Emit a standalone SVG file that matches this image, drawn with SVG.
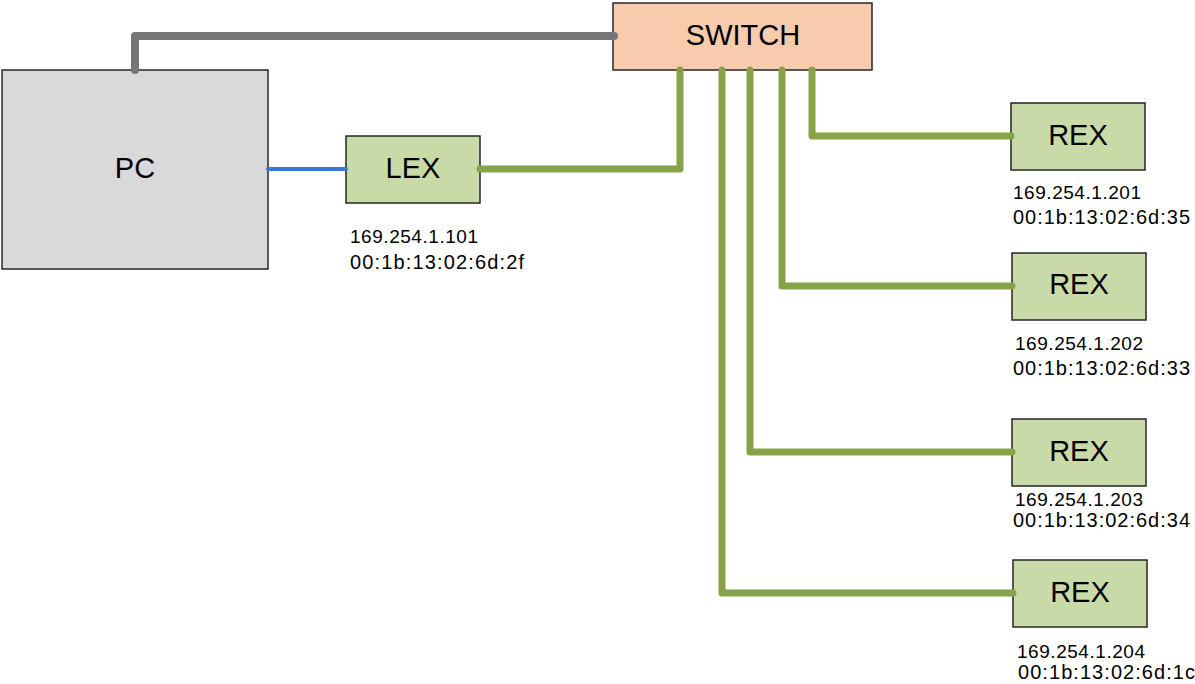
<svg xmlns="http://www.w3.org/2000/svg" width="1195" height="684" viewBox="0 0 1195 684">
<style>
.box{stroke:#262626;stroke-width:1.5}
.pc{fill:#d9d9d9}
.sw{fill:#f8cbad}
.dev{fill:#c9daa9}
.lbl{font-family:"Liberation Sans",Arial,sans-serif;font-size:29px;fill:#000;text-anchor:middle}
.ip{font-family:"Liberation Sans",Arial,sans-serif;font-size:19px;fill:#000}
.mac{font-family:"Liberation Sans",Arial,sans-serif;font-size:20px;fill:#000}
.g{fill:none;stroke:#86a447;stroke-width:7;stroke-linecap:round;stroke-linejoin:round}
.gray{fill:none;stroke:#767676;stroke-width:8;stroke-linecap:round;stroke-linejoin:round}
.blue{fill:none;stroke:#3a78d0;stroke-width:4;stroke-linecap:round}
</style>
<rect width="1195" height="684" fill="#fff"/>
<g id="pc">
<rect class="box pc" x="2" y="70" width="266" height="199"/>
<text class="lbl" x="135" y="178">PC</text>
</g>
<g id="switch">
<rect class="box sw" x="613" y="3" width="259" height="67"/>
<text class="lbl" x="743" y="45">SWITCH</text>
</g>
<g id="lex">
<rect class="box dev" x="346" y="136" width="134" height="67"/>
<text class="lbl" x="413" y="178">LEX</text>
<text class="ip" x="350" y="243" textLength="128">169.254.1.101</text>
<text class="mac" x="350" y="269" textLength="174">00:1b:13:02:6d:2f</text>
</g>
<g id="rex1">
<rect class="box dev" x="1011" y="103" width="134" height="67"/>
<text class="lbl" x="1078" y="145">REX</text>
<text class="ip" x="1013" y="199" textLength="128">169.254.1.201</text>
<text class="mac" x="1013" y="224" textLength="177">00:1b:13:02:6d:35</text>
</g>
<g id="rex2">
<rect class="box dev" x="1012" y="253" width="134" height="67"/>
<text class="lbl" x="1079" y="294">REX</text>
<text class="ip" x="1015" y="350" textLength="128">169.254.1.202</text>
<text class="mac" x="1013" y="375" textLength="177">00:1b:13:02:6d:33</text>
</g>
<g id="rex3">
<rect class="box dev" x="1012" y="419" width="134" height="67"/>
<text class="lbl" x="1079" y="461">REX</text>
<text class="ip" x="1015" y="506" textLength="128">169.254.1.203</text>
<text class="mac" x="1013" y="527" textLength="177">00:1b:13:02:6d:34</text>
</g>
<g id="rex4">
<rect class="box dev" x="1013" y="560" width="134" height="67"/>
<text class="lbl" x="1080" y="602">REX</text>
<text class="ip" x="1017" y="658" textLength="128">169.254.1.204</text>
<text class="mac" x="1018" y="679" textLength="177">00:1b:13:02:6d:1c</text>
</g>
<g id="connectors">
<path class="gray" d="M135 70 V36 H614"/>
<path class="blue" d="M268 169 H346"/>
<path class="g" d="M480 169 H680 V70"/>
<path class="g" d="M812 70 V136 H1011"/>
<path class="g" d="M782 70 V286 H1012"/>
<path class="g" d="M750 70 V452 H1012"/>
<path class="g" d="M722 70 V593 H1013"/>
</g>
</svg>
